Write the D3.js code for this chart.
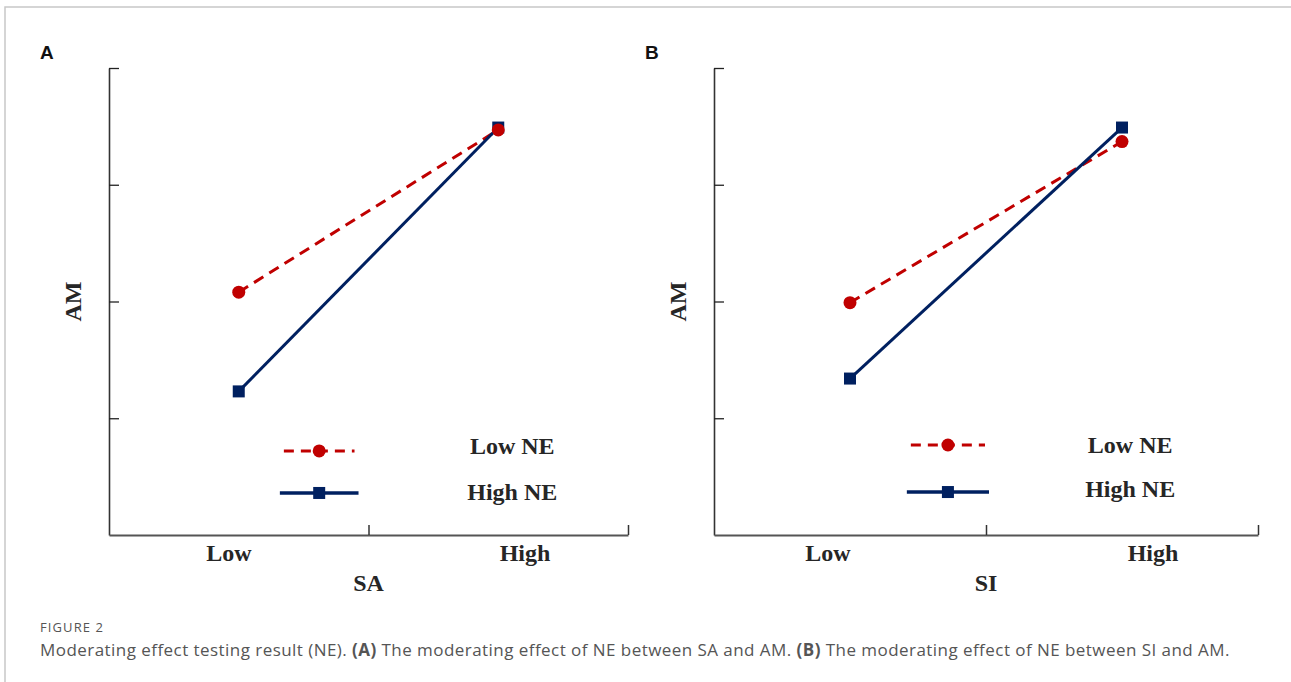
<!DOCTYPE html>
<html>
<head>
<meta charset="utf-8">
<script src="https://cdn.jsdelivr.net/npm/d3@7"></script>
<style>
  body { margin: 0; background: #fff; }
  svg { display: block; }
</style>
</head>
<body>
<svg width="1291" height="682"></svg>
<script>
let svg = d3.select("svg");
let width = +svg.attr("width");
let height = +svg.attr("height");

// data
const levels = ["Low", "High"];
const seriesNames = ["Low NE", "High NE"];
const panelA_lowNE = [2.08, 3.47];
const panelA_highNE = [1.23, 3.49];
const panelB_lowNE = [1.99, 3.37];
const panelB_highNE = [1.34, 3.49];
const yTicks = [1, 2, 3, 4];
const xTicks = [1, 2];

const red = "#c00000";
const navy = "#002060";
const ink = "#262626";
const serif = "'Liberation Serif', 'Times New Roman', serif";

// card frame
svg.append("path")
  .attr("d", `M5,${height} V7 H${width}`)
  .attr("fill", "none")
  .attr("stroke", "#c8c8c8")
  .attr("stroke-width", 1.5);

let panels = [
  { letter: "A", xName: "SA", left: 109, right: 628, letterX: 40,
    lowNE: panelA_lowNE, highNE: panelA_highNE,
    labelPos: [0.462, 1.603], legLine: [0.335, 0.475], legText: 0.777,
    legY: [0.72, 0.36], legDy: [3, 7] },
  { letter: "B", xName: "SI", left: 714, right: 1258, letterX: 645,
    lowNE: panelB_lowNE, highNE: panelB_highNE,
    labelPos: [0.419, 1.614], legLine: [0.36, 0.5], legText: 0.765,
    legY: [0.771, 0.368], legDy: [8, 5] }
];

let plotTop = 68, plotBottom = 535;
let y = d3.scaleLinear().domain([0, 4]).range([plotBottom, plotTop]);

panels.forEach(p => {
  let x = d3.scaleLinear().domain([0, 2]).range([p.left, p.right]);
  let g = svg.append("g");

  g.append("text")
    .attr("x", p.letterX).attr("y", 59)
    .attr("font-family", "'Liberation Sans', Arial, sans-serif")
    .attr("font-weight", "bold")
    .attr("font-size", 19)
    .attr("fill", "#111")
    .text(p.letter);

  // y axis, ticks pointing inward
  let ya = g.append("g")
    .attr("transform", `translate(${p.left},0)`)
    .call(d3.axisRight(y).tickValues(yTicks).tickSize(10).tickSizeOuter(0).tickFormat(""));
  ya.select(".domain").attr("stroke", "#333").attr("stroke-width", 1.6);
  ya.selectAll(".tick line").attr("stroke", "#222").attr("stroke-width", 1.3);

  // x axis, ticks pointing up
  let xa = g.append("g")
    .attr("transform", `translate(0,${plotBottom})`)
    .call(d3.axisTop(x).tickValues(xTicks).tickSize(10).tickSizeOuter(0).tickFormat(""));
  xa.select(".domain").attr("stroke", "#555").attr("stroke-width", 2.2);
  xa.selectAll(".tick line").attr("stroke", "#333").attr("stroke-width", 1.5);

  // category labels
  g.selectAll(".cat")
    .data(levels)
    .enter().append("text")
    .attr("x", (d, i) => x(p.labelPos[i]))
    .attr("y", plotBottom + 26)
    .attr("text-anchor", "middle")
    .attr("font-family", serif)
    .attr("font-weight", "bold")
    .attr("font-size", 24)
    .attr("fill", ink)
    .text(d => d);

  g.append("text")
    .attr("x", x(1)).attr("y", plotBottom + 56)
    .attr("text-anchor", "middle")
    .attr("font-family", serif)
    .attr("font-weight", "bold")
    .attr("font-size", 24)
    .attr("fill", ink)
    .text(p.xName);

  g.append("text")
    .attr("transform", `translate(${p.left - 28},${y(2)}) rotate(-90)`)
    .attr("text-anchor", "middle")
    .attr("font-family", serif)
    .attr("font-weight", "bold")
    .attr("font-size", 24)
    .attr("fill", ink)
    .text("AM");

  let xp = [0.5, 1.5];
  let line = d3.line().x((d, i) => x(xp[i])).y(d => y(d));

  g.append("path").datum(p.lowNE)
    .attr("d", line)
    .attr("fill", "none")
    .attr("stroke", red)
    .attr("stroke-width", 3)
    .attr("stroke-dasharray", "11,7");
  g.append("path").datum(p.highNE)
    .attr("d", line)
    .attr("fill", "none")
    .attr("stroke", navy)
    .attr("stroke-width", 3);

  g.selectAll(".sq").data(p.highNE)
    .enter().append("rect")
    .attr("x", (d, i) => x(xp[i]) - 6)
    .attr("y", d => y(d) - 6)
    .attr("width", 12).attr("height", 12)
    .attr("fill", navy);
  g.selectAll(".dot").data(p.lowNE)
    .enter().append("circle")
    .attr("cx", (d, i) => x(xp[i]))
    .attr("cy", d => y(d))
    .attr("r", 6.5)
    .attr("fill", red);

  // legend
  let lx0 = x(p.legLine[0] * 2), lx1 = x(p.legLine[1] * 2), lmid = (lx0 + lx1) / 2;
  let tx = x(p.legText * 2);
  seriesNames.forEach((name, i) => {
    let ly = y(p.legY[i]);
    if (i === 0) {
      g.append("line")
        .attr("x1", lx0 + 1).attr("x2", lx1 - 1)
        .attr("y1", ly).attr("y2", ly)
        .attr("stroke", red).attr("stroke-width", 3)
        .attr("stroke-dasharray", "10,7");
      g.append("circle").attr("cx", lmid).attr("cy", ly).attr("r", 6.5).attr("fill", red);
    } else {
      g.append("line")
        .attr("x1", lx0 - 3).attr("x2", lx1 + 3)
        .attr("y1", ly).attr("y2", ly)
        .attr("stroke", navy).attr("stroke-width", 3.5);
      g.append("rect").attr("x", lmid - 6).attr("y", ly - 6)
        .attr("width", 12).attr("height", 12).attr("fill", navy);
    }
    g.append("text")
      .attr("x", tx).attr("y", ly + p.legDy[i])
      .attr("text-anchor", "middle")
      .attr("font-family", serif)
      .attr("font-weight", "bold")
      .attr("font-size", 24)
      .attr("fill", ink)
      .text(name);
  });
});

// caption
svg.append("text")
  .attr("x", 40).attr("y", 632)
  .attr("font-family", "'Open Sans', sans-serif")
  .attr("font-size", 13)
  .attr("letter-spacing", 1.1)
  .attr("fill", "#555")
  .text("FIGURE 2");

let cap = svg.append("text")
  .attr("x", 40).attr("y", 656)
  .attr("font-family", "'Open Sans', sans-serif")
  .attr("font-size", 17)
  .attr("letter-spacing", 0.45)
  .attr("fill", "#555");
[
  ["Moderating effect testing result (NE). ", false],
  ["(A)", true],
  [" The moderating effect of NE between SA and AM. ", false],
  ["(B)", true],
  [" The moderating effect of NE between SI and AM.", false]
].forEach(([t, b]) => {
  cap.append("tspan").attr("font-weight", b ? "bold" : "normal").text(t);
});
</script>
</body>
</html>
